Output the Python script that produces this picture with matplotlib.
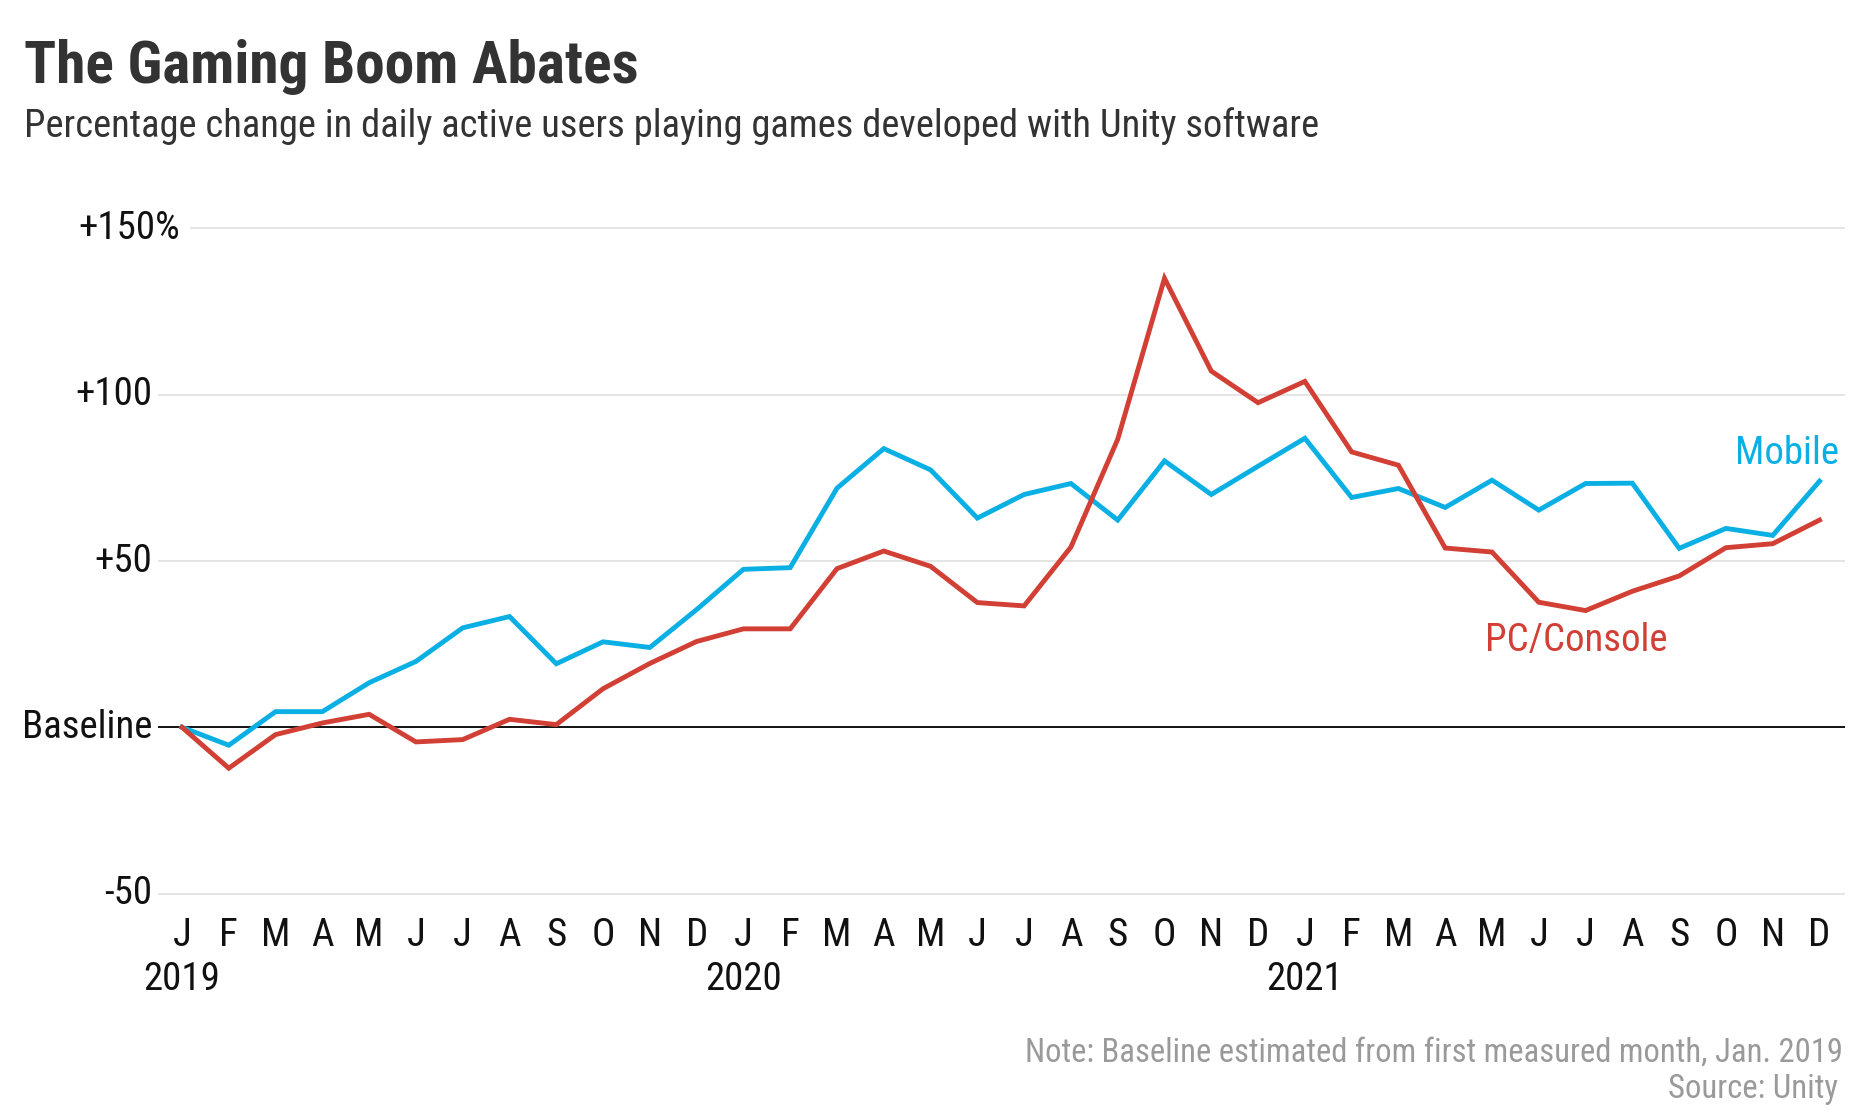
import matplotlib
matplotlib.use('Agg')
import matplotlib.pyplot as plt
from matplotlib import font_manager
from matplotlib.transforms import blended_transform_factory

# ---------------- data ----------------
month_labels = ["J", "F", "M", "A", "M", "J", "J", "A", "S", "O", "N", "D"] * 3
year_labels = ["2019", "2020", "2021"]
year_positions = [0, 12, 24]
ytick_values = [150, 100, 50, 0, -50]
ytick_labels = ["+150%", "+100", "+50", "Baseline", "-50"]

mobile = [0, -5.4, 4.7, 4.7, 13.4, 19.8, 29.9, 33.3, 19.1, 25.7, 24.0, 35.4,
          47.5, 48.0, 71.9, 83.8, 77.4, 62.9, 70.0, 73.3, 62.3, 80.1, 70.0, 78.5,
          86.9, 69.1, 71.8, 66.1, 74.3, 65.3, 73.3, 73.4, 53.8, 59.8, 57.7, 74.0]
pc_console = [0, -12.3, -2.2, 1.3, 3.9, -4.4, -3.7, 2.4, 0.8, 11.6, 19.2, 25.8,
              29.6, 29.6, 47.7, 53.0, 48.4, 37.5, 36.5, 54.2, 86.6, 135.0, 107.1, 97.6,
              104.0, 82.8, 78.8, 53.9, 52.7, 37.6, 35.1, 40.9, 45.5, 54.0, 55.2, 62.3]

series_names = ["Mobile", "PC/Console"]

# ---------------- style ----------------
BLUE = "#0AB0E4"
RED = "#D23F35"
GRID = "#dedede"
DARK = "#333333"
GREY = "#9a9a9a"
INK = "#111111"
TICK_FS = 28

names = {f.name for f in font_manager.fontManager.ttflist}
cands = ["Liberation Sans Narrow", "Roboto Condensed", "Open Sans Condensed",
         "Fira Sans Condensed", "Noto Sans", "Roboto", "Lato"]
FONT = next((c for c in cands if c in names), "DejaVu Sans")
plt.rcParams["font.family"] = [FONT, "DejaVu Sans"]

W, H = 1860, 1112
fig = plt.figure(figsize=(W / 100, H / 100), dpi=100)
fig.patch.set_facecolor("white")


def fx(px):
    return px / W


def fy(py):
    return 1 - py / H


# axes placement (pixel geometry)
ax_left, ax_right = 158, 1845
ax_top, ax_bottom = 211.8, 910.2
ax = fig.add_axes([fx(ax_left), fy(ax_bottom), (ax_right - ax_left) / W,
                   (ax_bottom - ax_top) / H])
ax.set_xlim(-0.513, 35.545)
ax.set_ylim(-55, 155)
for s in ax.spines.values():
    s.set_visible(False)
ax.set_facecolor("none")

# gridlines
for v in ytick_values:
    if v == 0:
        ax.axhline(v, color="black", lw=1.3, zorder=2)
    elif v == max(ytick_values):
        ax.axhline(v, xmin=(191 - ax_left) / (ax_right - ax_left), color=GRID, lw=1.1, zorder=1)
    else:
        ax.axhline(v, color=GRID, lw=1.1, zorder=1)

x = list(range(len(mobile)))
ax.plot(x, mobile, color=BLUE, lw=3.5, solid_joinstyle="miter", zorder=3)
ax.plot(x, pc_console, color=RED, lw=3.5, solid_joinstyle="miter", zorder=4)

# y labels
ax.set_yticks([])
ytrans = blended_transform_factory(fig.transFigure, ax.transData)
for v, lab in zip(ytick_values, ytick_labels):
    right = 180 if v == max(ytick_values) else 152
    ax.text(fx(right), v, lab, transform=ytrans, ha="right", va="center",
            fontsize=TICK_FS, color=INK)

# x labels
ax.set_xticks(x)
ax.set_xticklabels(month_labels, fontsize=TICK_FS, color=INK, va="center")
ax.tick_params(axis="x", length=0, pad=(936 - ax_bottom) * 0.72)
xtrans = blended_transform_factory(ax.transData, fig.transFigure)
for pos, yl in zip(year_positions, year_labels):
    ax.text(pos, fy(979), yl, transform=xtrans, ha="center", va="center",
            fontsize=TICK_FS, color=INK)

# series labels
ax.text(x[-1] + 0.42, 82.2, series_names[0], ha="right", va="center",
        fontsize=TICK_FS, color=BLUE)
ax.text(29.8, 26.0, series_names[1], ha="center", va="center",
        fontsize=TICK_FS, color=RED)

# titles and notes
title = fig.text(fx(24), fy(83), "The Gaming Boom Abates", ha="left", va="baseline",
                 fontsize=42, fontweight="bold", color=DARK)
subtitle = fig.text(fx(24), fy(137), "Percentage change in daily active users playing games developed with Unity software",
                    ha="left", va="baseline", fontsize=26, color=DARK)
note = fig.text(fx(1843), fy(1053), "Note: Baseline estimated from first measured month, Jan. 2019",
                ha="right", va="center", fontsize=23, color=GREY)
source = fig.text(fx(1838), fy(1089), "Source: Unity", ha="right", va="center",
                  fontsize=23, color=GREY)

# fit widths of long texts to the reference widths
renderer = fig.canvas.get_renderer()
for t, target in [(title, 615), (subtitle, 1292), (note, 820), (source, 171)]:
    w = t.get_window_extent(renderer).width
    t.set_fontsize(t.get_fontsize() * target / w)

fig.savefig("out.png", dpi=100, facecolor="white")
